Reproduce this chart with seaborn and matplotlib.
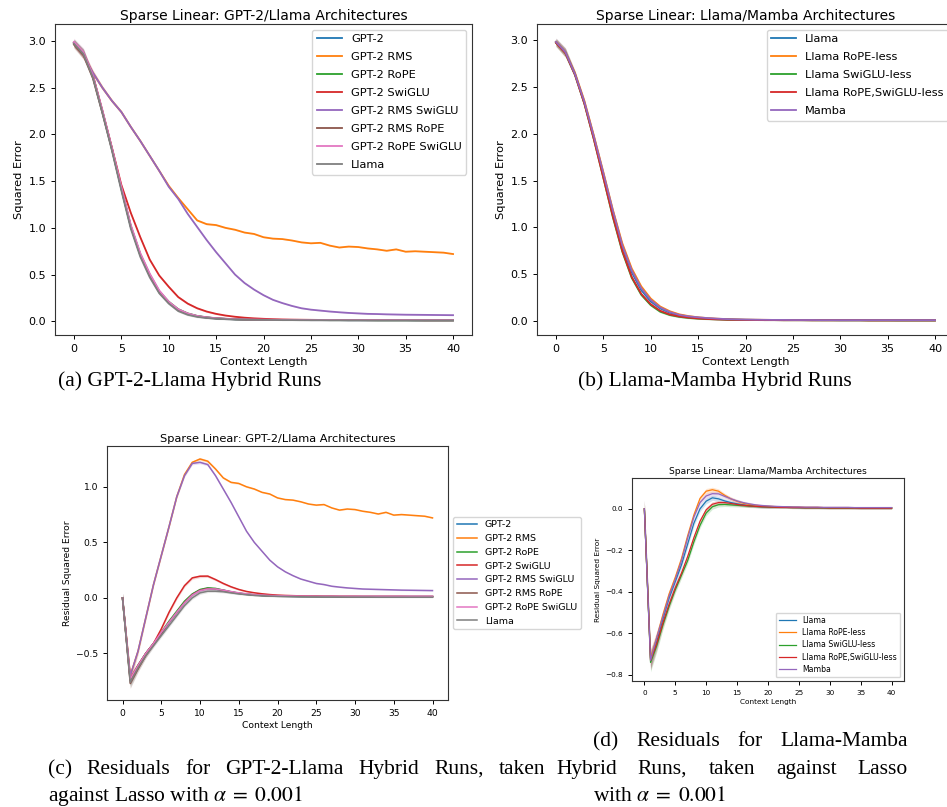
import numpy as np
import pandas as pd
import matplotlib
matplotlib.use("Agg")
import matplotlib.pyplot as plt
import seaborn as sns

plt.rcParams['mathtext.fontset'] = 'stix'

# ---------------- data ----------------
context = list(range(41))

# uncertainty half-width shared by all curves
band = [0.04, 0.045, 0.03, 0.022, 0.018, 0.016, 0.015, 0.014, 0.013, 0.013, 0.013,
        0.012, 0.011, 0.010, 0.009, 0.008, 0.007, 0.007, 0.006, 0.006, 0.006,
        0.005, 0.005, 0.005, 0.005, 0.005, 0.005, 0.005, 0.005, 0.005, 0.005,
        0.005, 0.005, 0.005, 0.005, 0.005, 0.005, 0.005, 0.005, 0.005, 0.005]

gpt_names = ["GPT-2", "GPT-2 RMS", "GPT-2 RoPE", "GPT-2 SwiGLU", "GPT-2 RMS SwiGLU",
             "GPT-2 RMS RoPE", "GPT-2 RoPE SwiGLU", "Llama"]
mamba_names = ["Llama", "Llama RoPE-less", "Llama SwiGLU-less", "Llama RoPE,SwiGLU-less", "Mamba"]

# (a) squared error, GPT-2/Llama hybrids
a_gpt2 = [2.98, 2.87, 2.62, 2.24, 1.85, 1.42, 1.01, 0.71, 0.49, 0.32, 0.20, 0.125, 0.08, 0.055, 0.041, 0.032, 0.026, 0.022, 0.019, 0.017, 0.016, 0.015, 0.015, 0.014, 0.014, 0.013, 0.013, 0.013, 0.013, 0.012, 0.012, 0.012, 0.012, 0.012, 0.012, 0.012, 0.011, 0.011, 0.011, 0.011, 0.011]
a_rms = [2.98, 2.85, 2.66, 2.50, 2.36, 2.24, 2.08, 1.93, 1.77, 1.61, 1.45, 1.32, 1.20, 1.08, 1.04, 1.03, 1.00, 0.98, 0.95, 0.935, 0.90, 0.885, 0.88, 0.865, 0.845, 0.835, 0.84, 0.81, 0.79, 0.80, 0.795, 0.78, 0.77, 0.755, 0.77, 0.745, 0.75, 0.745, 0.74, 0.735, 0.72]
a_rope = [2.98, 2.87, 2.62, 2.25, 1.85, 1.43, 1.02, 0.72, 0.50, 0.32, 0.21, 0.13, 0.085, 0.058, 0.043, 0.033, 0.027, 0.023, 0.020, 0.018, 0.017, 0.016, 0.015, 0.015, 0.014, 0.014, 0.014, 0.013, 0.013, 0.013, 0.013, 0.013, 0.012, 0.012, 0.012, 0.012, 0.012, 0.012, 0.012, 0.012, 0.012]
a_swiglu = [2.97, 2.87, 2.63, 2.25, 1.86, 1.46, 1.16, 0.90, 0.66, 0.49, 0.37, 0.26, 0.19, 0.14, 0.105, 0.08, 0.062, 0.049, 0.039, 0.032, 0.027, 0.023, 0.02, 0.018, 0.017, 0.016, 0.015, 0.015, 0.014, 0.014, 0.014, 0.013, 0.013, 0.013, 0.013, 0.013, 0.013, 0.012, 0.012, 0.012, 0.012]
a_rms_swiglu = [2.98, 2.85, 2.66, 2.50, 2.36, 2.24, 2.08, 1.93, 1.77, 1.61, 1.44, 1.31, 1.15, 1.01, 0.87, 0.74, 0.62, 0.50, 0.41, 0.34, 0.28, 0.23, 0.195, 0.165, 0.14, 0.125, 0.115, 0.105, 0.097, 0.09, 0.085, 0.08, 0.078, 0.075, 0.073, 0.071, 0.07, 0.069, 0.068, 0.067, 0.066]
a_rms_rope = [2.96, 2.85, 2.60, 2.23, 1.84, 1.42, 1.01, 0.71, 0.49, 0.31, 0.20, 0.125, 0.08, 0.055, 0.041, 0.032, 0.026, 0.022, 0.019, 0.017, 0.016, 0.015, 0.015, 0.014, 0.014, 0.013, 0.013, 0.013, 0.013, 0.012, 0.012, 0.012, 0.012, 0.012, 0.012, 0.012, 0.011, 0.011, 0.011, 0.011, 0.011]
a_rope_swiglu = [2.99, 2.88, 2.63, 2.26, 1.86, 1.44, 1.03, 0.73, 0.51, 0.33, 0.21, 0.13, 0.085, 0.058, 0.043, 0.034, 0.028, 0.024, 0.021, 0.019, 0.018, 0.017, 0.016, 0.016, 0.015, 0.015, 0.015, 0.015, 0.014, 0.014, 0.014, 0.014, 0.014, 0.014, 0.014, 0.014, 0.014, 0.014, 0.014, 0.014, 0.014]
a_llama = [2.97, 2.86, 2.61, 2.23, 1.83, 1.40, 0.99, 0.69, 0.47, 0.30, 0.19, 0.11, 0.07, 0.048, 0.036, 0.028, 0.023, 0.020, 0.018, 0.016, 0.015, 0.014, 0.013, 0.013, 0.012, 0.012, 0.012, 0.011, 0.011, 0.011, 0.011, 0.010, 0.010, 0.010, 0.010, 0.010, 0.010, 0.010, 0.010, 0.010, 0.010]

# (b) squared error, Llama/Mamba hybrids
b_llama = [2.98, 2.87, 2.64, 2.33, 1.96, 1.56, 1.16, 0.80, 0.52, 0.33, 0.21, 0.135, 0.09, 0.062, 0.046, 0.035, 0.027, 0.022, 0.018, 0.016, 0.014, 0.013, 0.012, 0.012, 0.011, 0.011, 0.010, 0.010, 0.010, 0.010, 0.009, 0.009, 0.009, 0.009, 0.009, 0.009, 0.008, 0.008, 0.008, 0.008, 0.008]
b_rope_less = [2.98, 2.87, 2.65, 2.35, 1.98, 1.59, 1.19, 0.83, 0.56, 0.37, 0.24, 0.155, 0.105, 0.072, 0.053, 0.04, 0.031, 0.025, 0.02, 0.017, 0.015, 0.014, 0.013, 0.012, 0.012, 0.011, 0.011, 0.011, 0.010, 0.010, 0.010, 0.010, 0.010, 0.009, 0.009, 0.009, 0.009, 0.009, 0.009, 0.009, 0.009]
b_swiglu_less = [2.97, 2.86, 2.63, 2.32, 1.94, 1.53, 1.11, 0.74, 0.46, 0.28, 0.17, 0.10, 0.065, 0.045, 0.033, 0.026, 0.021, 0.018, 0.015, 0.013, 0.012, 0.011, 0.010, 0.010, 0.009, 0.009, 0.009, 0.008, 0.008, 0.008, 0.008, 0.008, 0.008, 0.007, 0.007, 0.007, 0.007, 0.007, 0.007, 0.007, 0.007]
b_rope_swiglu_less = [2.97, 2.86, 2.63, 2.32, 1.94, 1.53, 1.12, 0.75, 0.47, 0.29, 0.18, 0.11, 0.07, 0.05, 0.037, 0.028, 0.022, 0.018, 0.015, 0.013, 0.012, 0.011, 0.010, 0.010, 0.009, 0.009, 0.009, 0.008, 0.008, 0.008, 0.008, 0.008, 0.008, 0.007, 0.007, 0.007, 0.007, 0.007, 0.007, 0.007, 0.007]
b_mamba = [2.98, 2.87, 2.64, 2.34, 1.97, 1.58, 1.18, 0.81, 0.54, 0.35, 0.225, 0.145, 0.097, 0.066, 0.05, 0.04, 0.032, 0.026, 0.021, 0.018, 0.016, 0.014, 0.013, 0.012, 0.012, 0.011, 0.011, 0.011, 0.010, 0.010, 0.010, 0.010, 0.010, 0.010, 0.010, 0.010, 0.010, 0.010, 0.010, 0.010, 0.010]

# (c) residual squared error vs Lasso, GPT-2/Llama hybrids
c_gpt2 = [0.0, -0.74, -0.61, -0.50, -0.41, -0.32, -0.22, -0.13, -0.04, 0.03, 0.07, 0.085, 0.08, 0.068, 0.053, 0.042, 0.033, 0.027, 0.022, 0.019, 0.017, 0.015, 0.014, 0.013, 0.013, 0.012, 0.012, 0.012, 0.011, 0.011, 0.011, 0.011, 0.011, 0.011, 0.011, 0.011, 0.011, 0.011, 0.011, 0.011, 0.011]
c_rms = [0.0, -0.70, -0.48, -0.18, 0.12, 0.38, 0.64, 0.91, 1.11, 1.22, 1.25, 1.23, 1.16, 1.08, 1.04, 1.03, 1.00, 0.98, 0.95, 0.935, 0.90, 0.885, 0.88, 0.865, 0.845, 0.835, 0.84, 0.81, 0.79, 0.80, 0.795, 0.78, 0.77, 0.755, 0.77, 0.745, 0.75, 0.745, 0.74, 0.735, 0.72]
c_rope = [0.0, -0.74, -0.61, -0.50, -0.41, -0.31, -0.21, -0.12, -0.03, 0.035, 0.075, 0.09, 0.085, 0.07, 0.055, 0.043, 0.034, 0.028, 0.023, 0.02, 0.018, 0.016, 0.015, 0.014, 0.013, 0.013, 0.012, 0.012, 0.012, 0.012, 0.012, 0.012, 0.012, 0.012, 0.012, 0.012, 0.012, 0.012, 0.012, 0.012, 0.012]
c_swiglu = [0.0, -0.73, -0.61, -0.50, -0.41, -0.28, -0.13, 0.0, 0.11, 0.18, 0.195, 0.196, 0.165, 0.13, 0.10, 0.076, 0.058, 0.046, 0.037, 0.03, 0.025, 0.022, 0.02, 0.018, 0.017, 0.016, 0.015, 0.015, 0.014, 0.014, 0.014, 0.013, 0.013, 0.013, 0.013, 0.013, 0.013, 0.012, 0.012, 0.012, 0.012]
c_rms_swiglu = [0.0, -0.70, -0.48, -0.18, 0.12, 0.38, 0.64, 0.91, 1.10, 1.21, 1.22, 1.20, 1.10, 0.98, 0.86, 0.73, 0.60, 0.50, 0.42, 0.34, 0.28, 0.235, 0.20, 0.17, 0.15, 0.13, 0.12, 0.105, 0.097, 0.09, 0.085, 0.08, 0.078, 0.076, 0.074, 0.072, 0.07, 0.069, 0.068, 0.067, 0.066]
c_rms_rope = [0.0, -0.77, -0.64, -0.52, -0.42, -0.32, -0.22, -0.13, -0.04, 0.03, 0.07, 0.085, 0.08, 0.067, 0.053, 0.041, 0.032, 0.026, 0.022, 0.019, 0.017, 0.015, 0.014, 0.013, 0.013, 0.012, 0.012, 0.012, 0.011, 0.011, 0.011, 0.011, 0.011, 0.011, 0.011, 0.011, 0.011, 0.011, 0.011, 0.011, 0.011]
c_rope_swiglu = [0.0, -0.73, -0.61, -0.50, -0.41, -0.31, -0.22, -0.13, -0.045, 0.025, 0.065, 0.08, 0.08, 0.07, 0.057, 0.046, 0.037, 0.03, 0.025, 0.022, 0.02, 0.018, 0.017, 0.016, 0.016, 0.015, 0.015, 0.015, 0.015, 0.015, 0.015, 0.015, 0.015, 0.015, 0.015, 0.015, 0.015, 0.015, 0.015, 0.015, 0.015]
c_llama = [0.0, -0.76, -0.63, -0.52, -0.43, -0.34, -0.25, -0.16, -0.07, 0.0, 0.045, 0.06, 0.06, 0.055, 0.045, 0.036, 0.029, 0.023, 0.019, 0.016, 0.014, 0.012, 0.011, 0.010, 0.009, 0.009, 0.008, 0.008, 0.008, 0.007, 0.007, 0.007, 0.007, 0.006, 0.006, 0.006, 0.006, 0.006, 0.006, 0.006, 0.006]

# (d) residual squared error vs Lasso, Llama/Mamba hybrids
d_llama = [0.0, -0.72, -0.64, -0.53, -0.43, -0.35, -0.27, -0.17, -0.07, 0.0, 0.037, 0.053, 0.048, 0.038, 0.03, 0.024, 0.019, 0.015, 0.012, 0.010, 0.009, 0.008, 0.008, 0.007, 0.007, 0.006, 0.006, 0.006, 0.006, 0.005, 0.005, 0.005, 0.005, 0.005, 0.005, 0.004, 0.004, 0.004, 0.004, 0.004, 0.004]
d_rope_less = [0.0, -0.72, -0.62, -0.51, -0.41, -0.33, -0.24, -0.13, -0.03, 0.05, 0.085, 0.092, 0.085, 0.065, 0.048, 0.036, 0.027, 0.021, 0.017, 0.014, 0.012, 0.011, 0.010, 0.009, 0.008, 0.008, 0.007, 0.007, 0.007, 0.006, 0.006, 0.006, 0.006, 0.006, 0.005, 0.005, 0.005, 0.005, 0.005, 0.005, 0.005]
d_swiglu_less = [0.0, -0.74, -0.66, -0.56, -0.47, -0.39, -0.32, -0.25, -0.16, -0.08, -0.02, 0.01, 0.02, 0.021, 0.019, 0.017, 0.015, 0.013, 0.011, 0.010, 0.009, 0.008, 0.007, 0.007, 0.006, 0.006, 0.005, 0.005, 0.005, 0.005, 0.004, 0.004, 0.004, 0.004, 0.004, 0.003, 0.003, 0.003, 0.003, 0.003, 0.003]
d_rope_swiglu_less = [0.0, -0.73, -0.65, -0.55, -0.46, -0.38, -0.31, -0.23, -0.14, -0.06, -0.005, 0.022, 0.03, 0.03, 0.026, 0.021, 0.017, 0.014, 0.012, 0.010, 0.009, 0.008, 0.007, 0.007, 0.006, 0.006, 0.005, 0.005, 0.005, 0.005, 0.004, 0.004, 0.004, 0.004, 0.004, 0.003, 0.003, 0.003, 0.003, 0.003, 0.003]
d_mamba = [0.0, -0.73, -0.62, -0.52, -0.42, -0.34, -0.25, -0.14, -0.04, 0.03, 0.062, 0.073, 0.072, 0.06, 0.048, 0.038, 0.03, 0.024, 0.019, 0.016, 0.014, 0.012, 0.011, 0.010, 0.009, 0.009, 0.008, 0.008, 0.008, 0.007, 0.007, 0.007, 0.007, 0.007, 0.006, 0.006, 0.006, 0.006, 0.006, 0.006, 0.006]

titles = ["Sparse Linear: GPT-2/Llama Architectures", "Sparse Linear: Llama/Mamba Architectures"]
captions_ab = ["(a) GPT-2-Llama Hybrid Runs", "(b) Llama-Mamba Hybrid Runs"]

# ---------------- figure ----------------
W, H = 947, 807
fig = plt.figure(figsize=(W / 100, H / 100), dpi=100)
palette = sns.color_palette("tab10")


def px_axes(left, top, right, bottom):
    return fig.add_axes([left / W, 1 - bottom / H, (right - left) / W, (bottom - top) / H])


def draw(ax, names, series, fs_tick, fs_title, fs_label, title, ylabel, lw):
    rows = []
    for n, s in zip(names, series):
        for xv, yv in zip(context, s):
            rows.append((n, xv, yv))
    df = pd.DataFrame(rows, columns=["model", "ctx", "err"])
    cols = palette[:len(names)]
    sns.lineplot(data=df, x="ctx", y="err", hue="model", hue_order=names,
                 palette=cols, errorbar=None, linewidth=lw, ax=ax, legend=True)
    for n, s, c in zip(names, series, cols):
        lo = np.array(s) - np.array(band)
        hi = np.array(s) + np.array(band)
        ax.fill_between(context, lo, hi, color=c, alpha=0.2, linewidth=0)
    ax.set_xticks([0, 5, 10, 15, 20, 25, 30, 35, 40])
    ax.tick_params(labelsize=fs_tick, length=3, width=0.7)
    ax.set_title(title, fontsize=fs_title, pad=3)
    ax.set_xlabel("Context Length", fontsize=fs_label, labelpad=2)
    ax.set_ylabel(ylabel, fontsize=fs_label, labelpad=3)
    for sp in ax.spines.values():
        sp.set_linewidth(0.8)
        sp.set_color("#333333")
    return ax


# (a)
axA = px_axes(55, 24, 472, 335)
draw(axA, gpt_names, [a_gpt2, a_rms, a_rope, a_swiglu, a_rms_swiglu, a_rms_rope, a_rope_swiglu, a_llama],
     8, 10, 8.2, titles[0], "Squared Error", 1.3)
h, l = axA.get_legend_handles_labels()
axA.legend(h, l, loc="upper right", fontsize=8.2, handlelength=2.2, labelspacing=0.7)

# (b)
axB = px_axes(537, 24, 954, 335)
draw(axB, mamba_names, [b_llama, b_rope_less, b_swiglu_less, b_rope_swiglu_less, b_mamba],
     8, 10, 8.2, titles[1], "Squared Error", 1.3)
h, l = axB.get_legend_handles_labels()
axB.legend(h, l, loc="upper right", fontsize=8.2, handlelength=2.2, labelspacing=0.7)

# (c)
axC = px_axes(107, 446, 448, 700)
draw(axC, gpt_names, [c_gpt2, c_rms, c_rope, c_swiglu, c_rms_swiglu, c_rms_rope, c_rope_swiglu, c_llama],
     6.6, 8.2, 6.6, titles[0], "Residual Squared Error", 1.1)
h, l = axC.get_legend_handles_labels()
axC.legend(h, l, loc="center left", bbox_to_anchor=(1.0, 0.5), fontsize=6.8, handlelength=2.2)

# (d)
axD = px_axes(632, 478, 904, 681)
draw(axD, mamba_names, [d_llama, d_rope_less, d_swiglu_less, d_rope_swiglu_less, d_mamba],
     5.2, 6.6, 5.3, titles[1], "Residual Squared Error", 0.9)
h, l = axD.get_legend_handles_labels()
axD.legend(h, l, loc="lower right", fontsize=5.6, handlelength=2.2, labelspacing=0.42)

# ---------------- captions ----------------
cap_font = dict(family="Liberation Serif", fontsize=15.5, va="baseline")
fig.text(190 / W, 1 - 386 / H, captions_ab[0], ha="center", **cap_font)
fig.text(715 / W, 1 - 386 / H, captions_ab[1], ha="center", **cap_font)

renderer = fig.canvas.get_renderer()


def justified(words, x0, x1, ybase):
    texts = [fig.text(0, 1 - ybase / H, w, ha="left", **cap_font) for w in words]
    widths = [t.get_window_extent(renderer).width for t in texts]
    gap = (x1 - x0 - sum(widths)) / (len(words) - 1)
    x = x0
    for t, wd in zip(texts, widths):
        t.set_position((x / W, 1 - ybase / H))
        x += wd + gap


justified(["(d)", "Residuals", "for", "Llama-Mamba"], 593, 908, 746)
justified(["(c)", "Residuals", "for", "GPT-2-Llama", "Hybrid", "Runs,", "taken"], 48, 545, 774)
justified(["Hybrid", "Runs,", "taken", "against", "Lasso"], 556, 908, 774)
fig.text(48 / W, 1 - 801 / H, r"against Lasso with $\alpha\;=\;0.001$", ha="left", **cap_font)
fig.text(593 / W, 1 - 801 / H, r"with $\alpha\;=\;0.001$", ha="left", **cap_font)

fig.savefig("out.png", dpi=100)
